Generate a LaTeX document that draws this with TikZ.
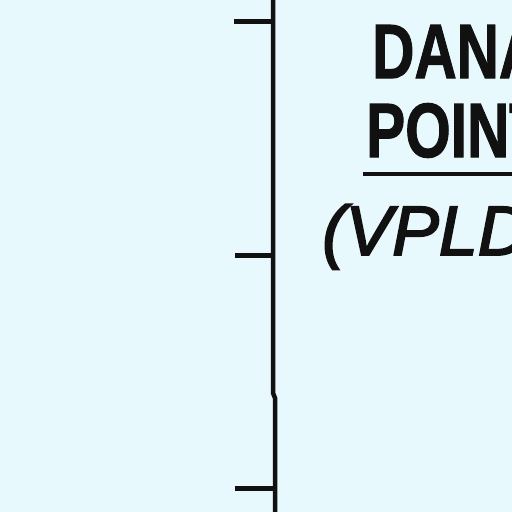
\documentclass[tikz,border=0pt]{standalone}
\usepackage{fontspec}
\setmainfont{Liberation Sans}
\newfontfamily\condfont{Liberation Sans}[BoldFont={* Bold},BoldFeatures={FakeBold=1.5}]
\newfontfamily\itfont{Liberation Sans}[ItalicFont={* Italic},ItalicFeatures={FakeBold=2.6}]
\definecolor{bgc}{HTML}{E8F9FD}
\definecolor{ink}{HTML}{111111}
\begin{document}
\begin{tikzpicture}[x=1pt,y=-1pt,
  axisline/.style={draw=ink,line width=4.5pt},
  tickline/.style={draw=ink,line width=5pt},
  title/.style={inner sep=0pt,anchor=base west,text=ink,font=\condfont\bfseries\fontsize{77}{80}\selectfont},
  sub/.style={inner sep=0pt,anchor=base west,text=ink,font=\itfont\itshape\fontsize{70}{74}\selectfont}]
\useasboundingbox (0,0) rectangle (512,512);
\fill[bgc] (0,0) rectangle (512,512);
\clip (0,0) rectangle (512,512);
\coordinate (top) at (273,-5);
\coordinate (jogA) at (273,393);
\coordinate (jogB) at (275,398);
\coordinate (bot) at (275,517);
\draw[axisline] (top) -- (jogA) -- (jogB) -- (bot);
\coordinate (t1a) at (234,21); \coordinate (t1b) at (274,21);
\coordinate (t2a) at (235,255); \coordinate (t2b) at (274,255);
\coordinate (t3a) at (235,488); \coordinate (t3b) at (275,488);
\draw[tickline] (t1a) -- (t1b);
\draw[tickline] (t2a) -- (t2b);
\draw[tickline] (t3a) -- (t3b);
\node[title] (dana) at (372,78) {\scalebox{0.76}[1]{DANA}};
\node[title] (point) at (366,157) {\scalebox{0.76}[1]{POINT}};
\coordinate (ula) at (363,174); \coordinate (ulb) at (520,174);
\draw[draw=ink,line width=4.5pt] (ula) -- (ulb);
\node[sub] (vpld) at (322,255) {(VPLD};
\end{tikzpicture}
\end{document}
